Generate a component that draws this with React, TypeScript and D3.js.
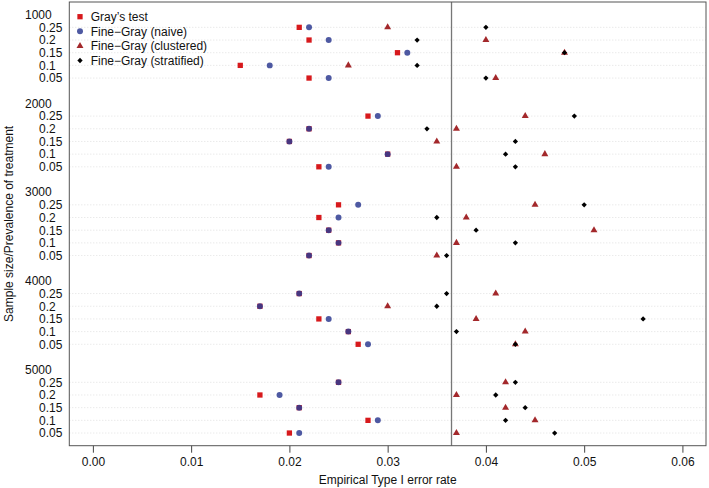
import { useEffect, useRef } from 'react';
import * as d3 from 'd3';

// sample sizes (groups) and prevalences (rows inside each group, top to bottom)
const groups = ['1000', '2000', '3000', '4000', '5000'];
const prevalences = ['0.25', '0.2', '0.15', '0.1', '0.05'];

// empirical type I error rates, group by group, rows top to bottom
const graysTest = [
  0.021, 0.022, 0.031, 0.015, 0.022,
  0.028, 0.022, 0.020, 0.030, 0.023,
  0.025, 0.023, 0.024, 0.025, 0.022,
  0.021, 0.017, 0.023, 0.026, 0.027,
  0.025, 0.017, 0.021, 0.028, 0.020
];
const fgNaive = [
  0.022, 0.024, 0.032, 0.018, 0.024,
  0.029, 0.022, 0.020, 0.030, 0.024,
  0.027, 0.025, 0.024, 0.025, 0.022,
  0.021, 0.017, 0.024, 0.026, 0.028,
  0.025, 0.019, 0.021, 0.029, 0.021
];
const fgClustered = [
  0.030, 0.040, 0.048, 0.026, 0.041,
  0.044, 0.037, 0.035, 0.046, 0.037,
  0.045, 0.038, 0.051, 0.037, 0.035,
  0.041, 0.030, 0.039, 0.044, 0.043,
  0.042, 0.037, 0.042, 0.045, 0.037
];
const fgStratified = [
  0.040, 0.033, 0.048, 0.033, 0.040,
  0.049, 0.034, 0.043, 0.042, 0.043,
  0.050, 0.035, 0.039, 0.043, 0.036,
  0.036, 0.035, 0.056, 0.037, 0.043,
  0.043, 0.041, 0.044, 0.042, 0.047
];

const xTicks = [0, 0.01, 0.02, 0.03, 0.04, 0.05, 0.06];
const refLine = 0.0365;

const legendLabels = ['Gray\u2019s test', 'Fine\u2212Gray (naive)', 'Fine\u2212Gray (clustered)', 'Fine\u2212Gray (stratified)'];

const FONT = '"Liberation Sans", Arial, Helvetica, sans-serif';

export default function App() {
  const ref = useRef<SVGSVGElement>(null);

  useEffect(() => {
    const W = 709, H = 488;
    const plot = { left: 69.3, right: 706, top: 2, bottom: 445.7 };
    const svg = d3.select(ref.current);
    svg.selectAll('*').remove();

    const x = d3.scaleLinear().domain([-0.0024, 0.0624]).range([plot.left, plot.right]);
    const y = d3.scaleLinear().domain([0, 35]).range([plot.bottom, plot.top]);

    const rowY = (gi: number, j: number) => 33 - 7 * gi - j;
    const headY = (gi: number) => 34 - 7 * gi;

    // dotted row lines
    const rows: { gi: number; j: number }[] = [];
    groups.forEach((_, gi) => prevalences.forEach((_, j) => rows.push({ gi, j })));

    svg.append('g').selectAll('line')
      .data(rows)
      .enter()
      .append('line')
      .attr('x1', plot.left)
      .attr('x2', plot.right)
      .attr('y1', d => y(rowY(d.gi, d.j)))
      .attr('y2', d => y(rowY(d.gi, d.j)))
      .attr('stroke', '#d9d9d9')
      .attr('stroke-width', 0.8)
      .attr('stroke-dasharray', '1 2');

    // row and group labels
    const labels = svg.append('g')
      .attr('font-family', FONT)
      .attr('font-size', 12)
      .attr('fill', '#111');

    labels.selectAll('text.row')
      .data(rows)
      .enter()
      .append('text')
      .attr('class', 'row')
      .attr('x', 39)
      .attr('y', d => y(rowY(d.gi, d.j)))
      .attr('dy', '0.36em')
      .text(d => prevalences[d.j]);

    labels.selectAll('text.grp')
      .data(groups)
      .enter()
      .append('text')
      .attr('class', 'grp')
      .attr('x', 25)
      .attr('y', (_, gi) => y(headY(gi)))
      .attr('dy', '0.36em')
      .text(d => d);

    // reference line
    svg.append('line')
      .attr('x1', x(refLine))
      .attr('x2', x(refLine))
      .attr('y1', plot.top)
      .attr('y2', plot.bottom)
      .attr('stroke', '#777')
      .attr('stroke-width', 1.3);

    // points
    const pts = svg.append('g');
    const place = (i: number, v: number) => {
      const gi = Math.floor(i / 5), j = i % 5;
      return `translate(${x(v)},${y(rowY(gi, j))})`;
    };

    const square = d3.symbol().type(d3.symbolSquare).size(28)();
    const circle = d3.symbol().type(d3.symbolCircle).size(28)();
    const triangle = d3.symbol().type(d3.symbolTriangle).size(21)();
    const diamond = d3.symbol().type(d3.symbolSquare).size(14)();

    pts.selectAll('path.gray').data(graysTest).enter().append('path')
      .attr('d', square).attr('transform', (d, i) => place(i, d))
      .attr('fill', '#d7191c');
    pts.selectAll('path.naive').data(fgNaive).enter().append('path')
      .attr('d', circle).attr('transform', (d, i) => place(i, d))
      .attr('fill', '#2f3c92').attr('fill-opacity', 0.85);
    pts.selectAll('path.clus').data(fgClustered).enter().append('path')
      .attr('d', triangle).attr('transform', (d, i) => place(i, d))
      .attr('fill', '#a3282b');
    pts.selectAll('path.strat').data(fgStratified).enter().append('path')
      .attr('d', diamond).attr('transform', (d, i) => place(i, d) + ' rotate(45)')
      .attr('fill', '#000');

    // x axis
    const axis = svg.append('g')
      .attr('transform', `translate(0,${plot.bottom})`)
      .call(d3.axisBottom(x).tickValues(xTicks).tickSize(7).tickPadding(5).tickFormat(d3.format('.2f')));
    axis.select('.domain').remove();
    axis.selectAll('line').attr('stroke', '#444');
    axis.selectAll('text').attr('font-family', FONT).attr('font-size', 12).attr('fill', '#111');

    // plot box
    svg.append('rect')
      .attr('x', plot.left)
      .attr('y', plot.top)
      .attr('width', plot.right - plot.left)
      .attr('height', plot.bottom - plot.top)
      .attr('fill', 'none')
      .attr('stroke', '#555')
      .attr('stroke-width', 1);

    // axis titles
    svg.append('text')
      .attr('x', (plot.left + plot.right) / 2)
      .attr('y', 484)
      .attr('text-anchor', 'middle')
      .attr('font-family', FONT)
      .attr('font-size', 12)
      .attr('fill', '#111')
      .text('Empirical Type I error rate');

    svg.append('text')
      .attr('transform', `translate(13,${(plot.top + plot.bottom) / 2}) rotate(-90)`)
      .attr('text-anchor', 'middle')
      .attr('font-family', FONT)
      .attr('font-size', 12)
      .attr('fill', '#111')
      .text('Sample size/Prevalence of treatment');

    // legend
    const legend = svg.append('g');
    const shapes = [
      { d: square, fill: '#d7191c', op: 1, rot: '' },
      { d: circle, fill: '#2f3c92', op: 0.85, rot: '' },
      { d: triangle, fill: '#a3282b', op: 1, rot: '' },
      { d: diamond, fill: '#000', op: 1, rot: ' rotate(45)' }
    ];
    legendLabels.forEach((label, i) => {
      const ly = 16.7 + i * 14.6;
      legend.append('path')
        .attr('d', shapes[i].d)
        .attr('transform', `translate(80,${ly})${shapes[i].rot}`)
        .attr('fill', shapes[i].fill)
        .attr('fill-opacity', shapes[i].op);
      legend.append('text')
        .attr('x', 90.7)
        .attr('y', ly)
        .attr('dy', '0.36em')
        .attr('font-family', FONT)
        .attr('font-size', 12)
        .attr('fill', '#111')
        .text(label);
    });

    svg.attr('width', W).attr('height', H);
  }, []);

  return (
    <svg
      ref={ref}
      width={709}
      height={488}
      style={{ position: 'absolute', left: 0, top: 0, background: '#fff' }}
    />
  );
}
